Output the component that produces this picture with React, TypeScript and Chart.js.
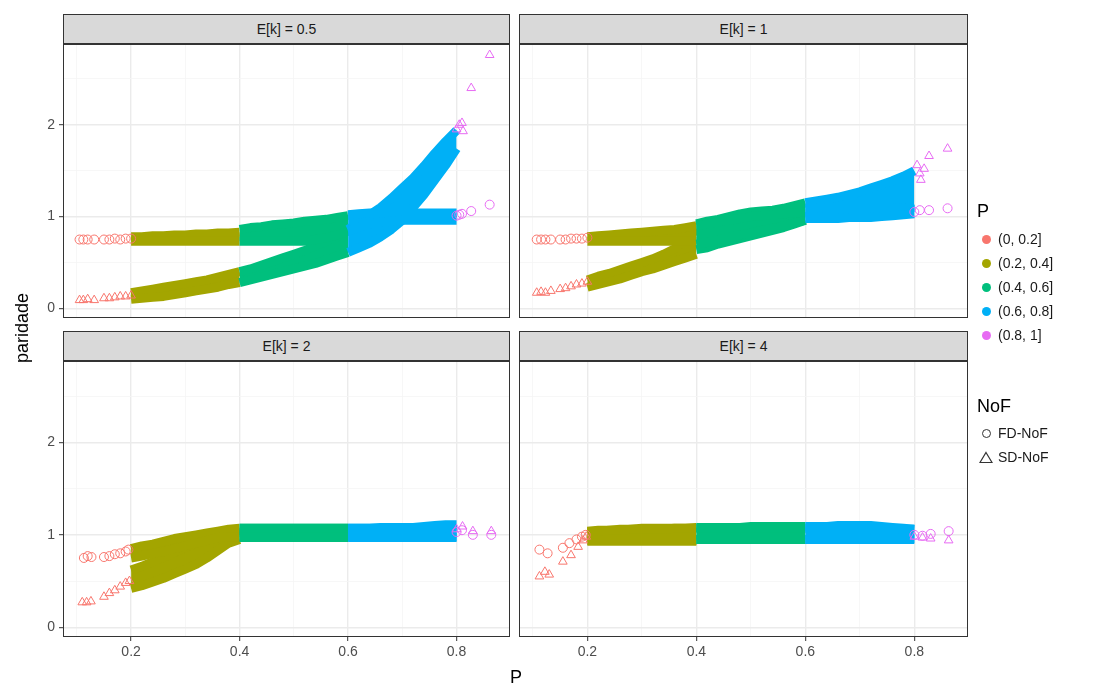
import React, { useEffect, useRef } from "react";
import { Chart, registerables } from "chart.js";

Chart.register(...registerables);

// ---------- labels & colours ----------
const COLORS = ["#F8766D", "#A3A500", "#00BF7D", "#00B0F6", "#E76BF3"];
const P_LABELS = ["(0, 0.2]", "(0.2, 0.4]", "(0.4, 0.6]", "(0.6, 0.8]", "(0.8, 1]"];
const NOF_LABELS = ["FD-NoF", "SD-NoF"];
const PANEL_TITLES = ["E[k] = 0.5", "E[k] = 1", "E[k] = 2", "E[k] = 4"];
const X_TICKS = [0.2, 0.4, 0.6, 0.8];
const X_MINOR = [0.1, 0.3, 0.5, 0.7];
const Y_TICKS = [0, 1, 2];
const Y_MINOR = [0.5, 1.5, 2.5];
const X_MIN = 0.0745;
const X_MAX = 0.8985;
const Y_MIN = -0.105;
const Y_MAX = 2.88;

// ---------- P positions of the dense bands ----------
const P_OLIVE = [0.2, 0.22, 0.24, 0.26, 0.28, 0.3, 0.32, 0.34, 0.36, 0.38, 0.4];
const P_GREEN = [0.4, 0.42, 0.44, 0.46, 0.48, 0.5, 0.52, 0.54, 0.56, 0.58, 0.6];
const P_BLUE = [0.6, 0.62, 0.64, 0.66, 0.68, 0.7, 0.72, 0.74, 0.76, 0.78, 0.8];

// ---------- E[k] = 0.5 ----------
const K05_FD_OLIVE_LO = [0.73, 0.73, 0.73, 0.73, 0.73, 0.73, 0.73, 0.73, 0.73, 0.73, 0.73];
const K05_FD_OLIVE_HI = [0.78, 0.78, 0.79, 0.79, 0.8, 0.8, 0.81, 0.81, 0.82, 0.82, 0.83];
const K05_FD_GREEN_LO = [0.73, 0.73, 0.73, 0.73, 0.73, 0.73, 0.73, 0.75, 0.77, 0.8, 0.84];
const K05_FD_GREEN_HI = [0.86, 0.88, 0.89, 0.91, 0.92, 0.93, 0.95, 0.96, 0.97, 0.99, 1.01];
const K05_FD_BLUE_LO = [0.84, 0.88, 0.92, 0.94, 0.95, 0.96, 0.96, 0.96, 0.96, 0.96, 0.96];
const K05_FD_BLUE_HI = [1.02, 1.03, 1.04, 1.04, 1.04, 1.04, 1.04, 1.04, 1.04, 1.04, 1.04];
const K05_SD_OLIVE_LO = [0.1, 0.11, 0.12, 0.13, 0.15, 0.17, 0.19, 0.21, 0.23, 0.26, 0.28];
const K05_SD_OLIVE_HI = [0.17, 0.19, 0.21, 0.23, 0.25, 0.27, 0.29, 0.31, 0.34, 0.37, 0.4];
const K05_SD_GREEN_LO = [0.28, 0.31, 0.34, 0.37, 0.4, 0.43, 0.46, 0.49, 0.53, 0.57, 0.61];
const K05_SD_GREEN_HI = [0.4, 0.43, 0.47, 0.51, 0.55, 0.59, 0.63, 0.68, 0.73, 0.78, 0.85];
const K05_SD_BLUE_LO = [0.61, 0.66, 0.71, 0.78, 0.86, 0.96, 1.1, 1.24, 1.4, 1.56, 1.74];
const K05_SD_BLUE_HI = [0.86, 0.94, 1.02, 1.1, 1.2, 1.31, 1.42, 1.55, 1.69, 1.82, 1.94];
const K05_FD_RED_X = [0.105, 0.112, 0.12, 0.132, 0.15, 0.16, 0.17, 0.18, 0.19, 0.2];
const K05_FD_RED_Y = [0.75, 0.75, 0.75, 0.75, 0.75, 0.75, 0.76, 0.75, 0.76, 0.76];
const K05_SD_RED_X = [0.105, 0.112, 0.12, 0.132, 0.15, 0.16, 0.17, 0.18, 0.19, 0.2];
const K05_SD_RED_Y = [0.09, 0.09, 0.1, 0.09, 0.11, 0.11, 0.12, 0.13, 0.13, 0.14];
const K05_FD_MAG_X = [0.8, 0.805, 0.81, 0.827, 0.861];
const K05_FD_MAG_Y = [1.01, 1.02, 1.03, 1.06, 1.13];
const K05_SD_MAG_X = [0.8, 0.805, 0.81, 0.812, 0.827, 0.861];
const K05_SD_MAG_Y = [1.95, 2.0, 2.02, 1.93, 2.4, 2.76];

// ---------- E[k] = 1 ----------
const K1_FD_OLIVE_LO = [0.73, 0.73, 0.73, 0.73, 0.73, 0.73, 0.73, 0.73, 0.73, 0.73, 0.73];
const K1_FD_OLIVE_HI = [0.78, 0.79, 0.8, 0.81, 0.82, 0.83, 0.84, 0.85, 0.86, 0.88, 0.9];
const K1_FD_GREEN_LO = [0.7, 0.72, 0.75, 0.78, 0.8, 0.82, 0.85, 0.87, 0.9, 0.93, 0.96];
const K1_FD_GREEN_HI = [0.9, 0.92, 0.94, 0.96, 0.98, 1.0, 1.01, 1.02, 1.03, 1.04, 1.05];
const K1_FD_BLUE_LO = [0.98, 0.98, 0.98, 0.98, 0.99, 0.99, 0.99, 1.0, 1.01, 1.02, 1.03];
const K1_FD_BLUE_HI = [1.08, 1.09, 1.1, 1.1, 1.1, 1.1, 1.1, 1.1, 1.1, 1.09, 1.08];
const K1_SD_OLIVE_LO = [0.23, 0.26, 0.29, 0.32, 0.36, 0.4, 0.43, 0.47, 0.51, 0.55, 0.59];
const K1_SD_OLIVE_HI = [0.31, 0.35, 0.38, 0.42, 0.46, 0.5, 0.54, 0.59, 0.65, 0.74, 0.86];
const K1_SD_GREEN_LO = [0.64, 0.66, 0.7, 0.73, 0.76, 0.79, 0.82, 0.85, 0.88, 0.92, 0.96];
const K1_SD_GREEN_HI = [0.92, 0.95, 0.97, 1.0, 1.03, 1.05, 1.06, 1.07, 1.09, 1.12, 1.15];
const K1_SD_BLUE_LO = [1.0, 1.01, 1.02, 1.03, 1.04, 1.05, 1.06, 1.07, 1.08, 1.09, 1.1];
const K1_SD_BLUE_HI = [1.15, 1.17, 1.19, 1.21, 1.24, 1.27, 1.31, 1.35, 1.39, 1.44, 1.5];
const K1_FD_RED_X = [0.107, 0.115, 0.123, 0.133, 0.15, 0.16, 0.17, 0.18, 0.19, 0.2];
const K1_FD_RED_Y = [0.75, 0.75, 0.75, 0.75, 0.75, 0.75, 0.76, 0.76, 0.76, 0.77];
const K1_SD_RED_X = [0.107, 0.115, 0.123, 0.133, 0.15, 0.16, 0.17, 0.18, 0.19, 0.2];
const K1_SD_RED_Y = [0.17, 0.18, 0.17, 0.19, 0.21, 0.22, 0.24, 0.26, 0.27, 0.29];
const K1_FD_MAG_X = [0.8, 0.81, 0.827, 0.861];
const K1_FD_MAG_Y = [1.05, 1.07, 1.07, 1.09];
const K1_SD_MAG_X = [0.805, 0.81, 0.812, 0.818, 0.827, 0.861];
const K1_SD_MAG_Y = [1.56, 1.47, 1.4, 1.52, 1.66, 1.74];

// ---------- E[k] = 2 ----------
const K2_FD_OLIVE_LO = [0.75, 0.77, 0.8, 0.82, 0.85, 0.88, 0.91, 0.94, 0.97, 0.98, 0.98];
const K2_FD_OLIVE_HI = [0.85, 0.88, 0.9, 0.93, 0.96, 0.98, 1.0, 1.02, 1.04, 1.06, 1.07];
const K2_FD_GREEN_LO = [0.97, 0.97, 0.97, 0.97, 0.97, 0.97, 0.97, 0.97, 0.97, 0.97, 0.97];
const K2_FD_GREEN_HI = [1.07, 1.07, 1.07, 1.07, 1.07, 1.07, 1.07, 1.07, 1.07, 1.07, 1.07];
const K2_FD_BLUE_LO = [0.97, 0.97, 0.97, 0.97, 0.97, 0.97, 0.97, 0.97, 0.97, 0.97, 0.97];
const K2_FD_BLUE_HI = [1.07, 1.07, 1.07, 1.07, 1.07, 1.07, 1.07, 1.07, 1.07, 1.07, 1.06];
const K2_SD_OLIVE_LO = [0.42, 0.45, 0.49, 0.53, 0.58, 0.63, 0.68, 0.75, 0.83, 0.91, 0.95];
const K2_SD_OLIVE_HI = [0.62, 0.66, 0.71, 0.76, 0.81, 0.86, 0.91, 0.96, 1.0, 1.03, 1.05];
const K2_SD_GREEN_LO = [0.98, 0.98, 0.98, 0.98, 0.98, 0.98, 0.98, 0.98, 0.98, 0.98, 0.98];
const K2_SD_GREEN_HI = [1.07, 1.07, 1.07, 1.07, 1.07, 1.07, 1.07, 1.07, 1.07, 1.07, 1.07];
const K2_SD_BLUE_LO = [0.98, 0.98, 0.98, 0.98, 0.98, 0.98, 0.98, 0.98, 0.98, 0.98, 0.98];
const K2_SD_BLUE_HI = [1.07, 1.07, 1.07, 1.08, 1.08, 1.08, 1.08, 1.09, 1.1, 1.11, 1.11];
const K2_FD_RED_X = [0.113, 0.12, 0.127, 0.15, 0.16, 0.17, 0.18, 0.19, 0.195];
const K2_FD_RED_Y = [0.75, 0.77, 0.76, 0.76, 0.77, 0.79, 0.8, 0.82, 0.84];
const K2_SD_RED_X = [0.11, 0.118, 0.126, 0.15, 0.16, 0.17, 0.18, 0.19, 0.197];
const K2_SD_RED_Y = [0.27, 0.27, 0.28, 0.33, 0.37, 0.4, 0.44, 0.48, 0.5];
const K2_FD_MAG_X = [0.8, 0.81, 0.83, 0.864];
const K2_FD_MAG_Y = [1.03, 1.05, 1.0, 1.0];
const K2_SD_MAG_X = [0.8, 0.811, 0.83, 0.864];
const K2_SD_MAG_Y = [1.06, 1.09, 1.04, 1.04];

// ---------- E[k] = 4 ----------
const K4_FD_OLIVE_LO = [0.94, 0.94, 0.94, 0.94, 0.94, 0.94, 0.94, 0.94, 0.94, 0.94, 0.94];
const K4_FD_OLIVE_HI = [1.03, 1.04, 1.05, 1.05, 1.06, 1.06, 1.06, 1.06, 1.07, 1.07, 1.07];
const K4_FD_GREEN_LO = [0.95, 0.95, 0.95, 0.95, 0.95, 0.95, 0.95, 0.95, 0.95, 0.95, 0.95];
const K4_FD_GREEN_HI = [1.07, 1.07, 1.07, 1.07, 1.07, 1.07, 1.07, 1.07, 1.07, 1.07, 1.07];
const K4_FD_BLUE_LO = [0.95, 0.95, 0.95, 0.95, 0.95, 0.95, 0.95, 0.96, 0.96, 0.96, 0.96];
const K4_FD_BLUE_HI = [1.07, 1.07, 1.07, 1.07, 1.07, 1.07, 1.07, 1.07, 1.07, 1.06, 1.06];
const K4_SD_OLIVE_LO = [0.93, 0.93, 0.93, 0.93, 0.93, 0.93, 0.93, 0.93, 0.93, 0.93, 0.93];
const K4_SD_OLIVE_HI = [1.04, 1.05, 1.05, 1.06, 1.06, 1.07, 1.07, 1.07, 1.07, 1.07, 1.08];
const K4_SD_GREEN_LO = [0.95, 0.95, 0.95, 0.95, 0.95, 0.95, 0.95, 0.95, 0.95, 0.95, 0.95];
const K4_SD_GREEN_HI = [1.08, 1.08, 1.08, 1.08, 1.08, 1.09, 1.09, 1.09, 1.09, 1.09, 1.09];
const K4_SD_BLUE_LO = [0.95, 0.95, 0.95, 0.95, 0.95, 0.95, 0.95, 0.95, 0.95, 0.95, 0.95];
const K4_SD_BLUE_HI = [1.09, 1.09, 1.09, 1.1, 1.1, 1.1, 1.1, 1.09, 1.08, 1.07, 1.06];
const K4_FD_RED_X = [0.112, 0.127, 0.155, 0.167, 0.18, 0.19, 0.197];
const K4_FD_RED_Y = [0.84, 0.8, 0.86, 0.91, 0.95, 0.98, 1.0];
const K4_SD_RED_X = [0.112, 0.122, 0.13, 0.155, 0.17, 0.183, 0.192, 0.198];
const K4_SD_RED_Y = [0.55, 0.6, 0.57, 0.71, 0.78, 0.87, 0.94, 0.98];
const K4_FD_MAG_X = [0.8, 0.815, 0.83, 0.863];
const K4_FD_MAG_Y = [1.0, 0.99, 1.01, 1.04];
const K4_SD_MAG_X = [0.8, 0.815, 0.83, 0.863];
const K4_SD_MAG_Y = [0.98, 0.97, 0.96, 0.94];

type Band = { lo: number[]; hi: number[] };
type PanelData = {
  fd: Band[];
  sd: Band[];
  fdRed: [number[], number[]];
  sdRed: [number[], number[]];
  fdMag: [number[], number[]];
  sdMag: [number[], number[]];
};

const PANEL_DATA: PanelData[] = [
  {
    fd: [
      { lo: K05_FD_OLIVE_LO, hi: K05_FD_OLIVE_HI },
      { lo: K05_FD_GREEN_LO, hi: K05_FD_GREEN_HI },
      { lo: K05_FD_BLUE_LO, hi: K05_FD_BLUE_HI },
    ],
    sd: [
      { lo: K05_SD_OLIVE_LO, hi: K05_SD_OLIVE_HI },
      { lo: K05_SD_GREEN_LO, hi: K05_SD_GREEN_HI },
      { lo: K05_SD_BLUE_LO, hi: K05_SD_BLUE_HI },
    ],
    fdRed: [K05_FD_RED_X, K05_FD_RED_Y],
    sdRed: [K05_SD_RED_X, K05_SD_RED_Y],
    fdMag: [K05_FD_MAG_X, K05_FD_MAG_Y],
    sdMag: [K05_SD_MAG_X, K05_SD_MAG_Y],
  },
  {
    fd: [
      { lo: K1_FD_OLIVE_LO, hi: K1_FD_OLIVE_HI },
      { lo: K1_FD_GREEN_LO, hi: K1_FD_GREEN_HI },
      { lo: K1_FD_BLUE_LO, hi: K1_FD_BLUE_HI },
    ],
    sd: [
      { lo: K1_SD_OLIVE_LO, hi: K1_SD_OLIVE_HI },
      { lo: K1_SD_GREEN_LO, hi: K1_SD_GREEN_HI },
      { lo: K1_SD_BLUE_LO, hi: K1_SD_BLUE_HI },
    ],
    fdRed: [K1_FD_RED_X, K1_FD_RED_Y],
    sdRed: [K1_SD_RED_X, K1_SD_RED_Y],
    fdMag: [K1_FD_MAG_X, K1_FD_MAG_Y],
    sdMag: [K1_SD_MAG_X, K1_SD_MAG_Y],
  },
  {
    fd: [
      { lo: K2_FD_OLIVE_LO, hi: K2_FD_OLIVE_HI },
      { lo: K2_FD_GREEN_LO, hi: K2_FD_GREEN_HI },
      { lo: K2_FD_BLUE_LO, hi: K2_FD_BLUE_HI },
    ],
    sd: [
      { lo: K2_SD_OLIVE_LO, hi: K2_SD_OLIVE_HI },
      { lo: K2_SD_GREEN_LO, hi: K2_SD_GREEN_HI },
      { lo: K2_SD_BLUE_LO, hi: K2_SD_BLUE_HI },
    ],
    fdRed: [K2_FD_RED_X, K2_FD_RED_Y],
    sdRed: [K2_SD_RED_X, K2_SD_RED_Y],
    fdMag: [K2_FD_MAG_X, K2_FD_MAG_Y],
    sdMag: [K2_SD_MAG_X, K2_SD_MAG_Y],
  },
  {
    fd: [
      { lo: K4_FD_OLIVE_LO, hi: K4_FD_OLIVE_HI },
      { lo: K4_FD_GREEN_LO, hi: K4_FD_GREEN_HI },
      { lo: K4_FD_BLUE_LO, hi: K4_FD_BLUE_HI },
    ],
    sd: [
      { lo: K4_SD_OLIVE_LO, hi: K4_SD_OLIVE_HI },
      { lo: K4_SD_GREEN_LO, hi: K4_SD_GREEN_HI },
      { lo: K4_SD_BLUE_LO, hi: K4_SD_BLUE_HI },
    ],
    fdRed: [K4_FD_RED_X, K4_FD_RED_Y],
    sdRed: [K4_SD_RED_X, K4_SD_RED_Y],
    fdMag: [K4_FD_MAG_X, K4_FD_MAG_Y],
    sdMag: [K4_SD_MAG_X, K4_SD_MAG_Y],
  },
];

// ---------- layout (pixels) ----------
const W = 1105;
const H = 691;
const X_AXIS_H = 30;
const PANEL_GEOM = [
  { left: 63, right: 510, top: 44, bottom: 318, yLabels: true, xLabels: false },
  { left: 519, right: 968, top: 44, bottom: 318, yLabels: false, xLabels: false },
  { left: 63, right: 510, top: 361, bottom: 637, yLabels: true, xLabels: true },
  { left: 519, right: 968, top: 361, bottom: 637, yLabels: false, xLabels: true },
];
const STRIP_H = 30;
const FONT = "'Liberation Sans', Arial, Helvetica, sans-serif";
const TRANSPARENT = "rgba(0,0,0,0)";
const BAND_EDGE = 9; // px: size of a marker, added around the band of marker centres

const BAND_BINS = [P_OLIVE, P_GREEN, P_BLUE];

const panelBorder = {
  id: "panelBorder",
  afterDatasetsDraw(chart: any) {
    const { ctx, chartArea: a } = chart;
    ctx.save();
    ctx.strokeStyle = "#333333";
    ctx.lineWidth = 1;
    ctx.strokeRect(a.left + 0.5, a.top + 0.5, a.right - a.left - 1, a.bottom - a.top - 1);
    ctx.restore();
  },
};

function buildDatasets(pd: PanelData) {
  const datasets: any[] = [];
  const addSparse = (xs: number[], ys: number[], color: string, style: string) => {
    datasets.push({
      data: xs.map((x, i) => ({ x, y: ys[i] })),
      showLine: false,
      pointStyle: style,
      pointRadius: style === "triangle" ? 5 : 4.5,
      pointBorderColor: color,
      pointBackgroundColor: TRANSPARENT,
      pointBorderWidth: 1,
    });
  };
  const addBand = (xs: number[], band: Band, color: string) => {
    const common = {
      showLine: true,
      borderWidth: BAND_EDGE,
      borderColor: color,
      borderJoinStyle: "round",
      borderCapStyle: "butt",
      backgroundColor: color,
      tension: 0,
      pointRadius: 0,
    };
    datasets.push({ ...common, data: xs.map((x, i) => ({ x, y: band.lo[i] })), fill: false });
    datasets.push({ ...common, data: xs.map((x, i) => ({ x, y: band.hi[i] })), fill: "-1" });
  };
  addSparse(pd.fdRed[0], pd.fdRed[1], COLORS[0], "circle");
  addSparse(pd.sdRed[0], pd.sdRed[1], COLORS[0], "triangle");
  addSparse(pd.fdMag[0], pd.fdMag[1], COLORS[4], "circle");
  addSparse(pd.sdMag[0], pd.sdMag[1], COLORS[4], "triangle");
  for (let b = 2; b >= 0; b--) {
    addBand(BAND_BINS[b], pd.fd[b], COLORS[b + 1]);
    addBand(BAND_BINS[b], pd.sd[b], COLORS[b + 1]);
  }
  return datasets;
}

function PanelChart({ index }: { index: number }) {
  const ref = useRef<HTMLCanvasElement | null>(null);
  useEffect(() => {
    if (!ref.current) return;
    const g = PANEL_GEOM[index];
    const xAll = [...X_MINOR, ...X_TICKS].sort((a, b) => a - b);
    const yAll = [...Y_MINOR, ...Y_TICKS].sort((a, b) => a - b);
    const gridColor = (majors: number[]) => (ctx: any) =>
      majors.includes(ctx.tick?.value) ? "#EBEBEB" : "#F5F5F5";
    const gridWidth = (majors: number[]) => (ctx: any) =>
      majors.includes(ctx.tick?.value) ? 1.4 : 0.8;
    const tickColor = (majors: number[]) => (ctx: any) =>
      majors.includes(ctx.tick?.value) ? "#333333" : TRANSPARENT;
    const chart = new Chart(ref.current, {
      type: "scatter",
      data: { datasets: buildDatasets(PANEL_DATA[index]) },
      options: {
        animation: false,
        responsive: false,
        devicePixelRatio: 1,
        events: [],
        layout: {
          padding: {
            left: 0,
            right: W - g.right,
            top: g.top,
            bottom: H - g.bottom - (g.xLabels ? X_AXIS_H : 0),
          },
        },
        plugins: { legend: { display: false }, tooltip: { enabled: false } },
        scales: {
          x: {
            type: "linear",
            min: X_MIN,
            max: X_MAX,
            afterBuildTicks: (s: any) => {
              s.ticks = xAll.map((v) => ({ value: v }));
            },
            afterFit: (s: any) => {
              s.height = g.xLabels ? X_AXIS_H : 0;
            },
            border: { display: false },
            grid: {
              color: gridColor(X_TICKS),
              lineWidth: gridWidth(X_TICKS),
              drawTicks: g.xLabels,
              tickLength: 4,
              tickColor: tickColor(X_TICKS),
              tickWidth: 1,
            },
            ticks: {
              display: g.xLabels,
              autoSkip: false,
              maxRotation: 0,
              padding: 3,
              color: "#4D4D4D",
              font: { family: FONT, size: 14 },
              callback: (v: any) => (X_TICKS.includes(v) ? String(v) : ""),
            },
          },
          y: {
            type: "linear",
            min: Y_MIN,
            max: Y_MAX,
            afterBuildTicks: (s: any) => {
              s.ticks = yAll.map((v) => ({ value: v }));
            },
            afterFit: (s: any) => {
              s.width = g.left;
            },
            border: { display: false },
            grid: {
              color: gridColor(Y_TICKS),
              lineWidth: gridWidth(Y_TICKS),
              drawTicks: g.yLabels,
              tickLength: 4,
              tickColor: tickColor(Y_TICKS),
              tickWidth: 1,
            },
            ticks: {
              display: g.yLabels,
              autoSkip: false,
              padding: 4,
              color: "#4D4D4D",
              font: { family: FONT, size: 14 },
              callback: (v: any) => (Y_TICKS.includes(v) ? String(v) : ""),
            },
          },
        },
      } as any,
      plugins: [panelBorder],
    });
    return () => chart.destroy();
  }, [index]);
  return (
    <canvas
      ref={ref}
      width={W}
      height={H}
      style={{ position: "absolute", left: 0, top: 0, width: W, height: H }}
    />
  );
}

function Triangle({ color }: { color: string }) {
  return (
    <svg width={14} height={13} style={{ display: "block" }}>
      <polygon points="7,1.5 13,11.5 1,11.5" fill="none" stroke={color} strokeWidth={1.2} />
    </svg>
  );
}

export default function App() {
  return (
    <div
      style={{
        position: "absolute",
        left: 0,
        top: 0,
        width: W,
        height: H,
        background: "#FFFFFF",
        fontFamily: FONT,
        overflow: "hidden",
      }}
    >
      {PANEL_GEOM.map((_, i) => (
        <PanelChart key={i} index={i} />
      ))}
      {PANEL_GEOM.map((g, i) => (
        <div
          key={"s" + i}
          style={{
            position: "absolute",
            left: g.left,
            top: g.top - STRIP_H,
            width: g.right - g.left,
            height: STRIP_H,
            boxSizing: "border-box",
            background: "#D9D9D9",
            border: "1px solid #333333",
            color: "#1A1A1A",
            fontSize: 14,
            lineHeight: STRIP_H - 2 + "px",
            textAlign: "center",
          }}
        >
          {PANEL_TITLES[i]}
        </div>
      ))}
      <div
        style={{
          position: "absolute",
          left: 516 - 20,
          width: 40,
          top: 667,
          textAlign: "center",
          fontSize: 18,
          color: "#000",
        }}
      >
        P
      </div>
      <div
        style={{
          position: "absolute",
          left: 22 - 60,
          top: 328 - 12,
          width: 120,
          height: 24,
          lineHeight: "24px",
          textAlign: "center",
          fontSize: 18,
          color: "#000",
          transform: "rotate(-90deg)",
        }}
      >
        paridade
      </div>
      <div style={{ position: "absolute", left: 977, top: 201, fontSize: 18, color: "#000" }}>P</div>
      {P_LABELS.map((lab, i) => (
        <div
          key={"p" + i}
          style={{
            position: "absolute",
            left: 978,
            top: 239 + 24 * i - 10,
            height: 20,
            display: "flex",
            alignItems: "center",
          }}
        >
          <div style={{ width: 16, display: "flex", justifyContent: "center" }}>
            <div style={{ width: 9, height: 9, borderRadius: "50%", background: COLORS[i] }} />
          </div>
          <span style={{ marginLeft: 4, fontSize: 14, color: "#1A1A1A" }}>{lab}</span>
        </div>
      ))}
      <div style={{ position: "absolute", left: 977, top: 396, fontSize: 18, color: "#000" }}>NoF</div>
      {NOF_LABELS.map((lab, i) => (
        <div
          key={"n" + i}
          style={{
            position: "absolute",
            left: 978,
            top: 433 + 24 * i - 10,
            height: 20,
            display: "flex",
            alignItems: "center",
          }}
        >
          <div style={{ width: 16, display: "flex", justifyContent: "center" }}>
            {i === 0 ? (
              <div
                style={{
                  width: 9,
                  height: 9,
                  borderRadius: "50%",
                  border: "1.2px solid #333333",
                  boxSizing: "border-box",
                }}
              />
            ) : (
              <Triangle color="#333333" />
            )}
          </div>
          <span style={{ marginLeft: 4, fontSize: 14, color: "#1A1A1A" }}>{lab}</span>
        </div>
      ))}
    </div>
  );
}
